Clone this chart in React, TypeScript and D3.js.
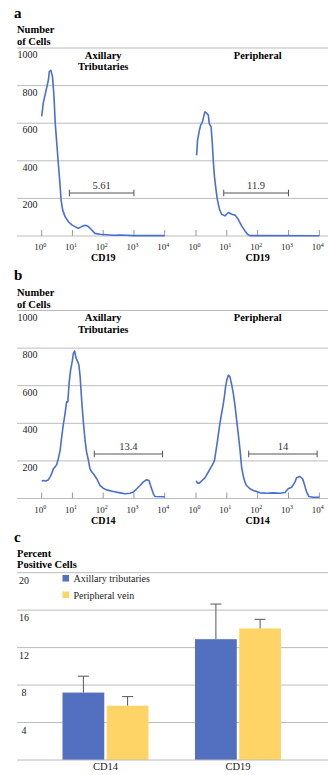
import React from 'react';
import * as d3 from 'd3';

// histogram data: [log10 intensity, number of cells]
const cd19Axillary: [number, number][] = [
  [0, 636], [0.05, 707], [0.11, 751], [0.16, 787], [0.22, 831], [0.25, 876], [0.3, 881],
  [0.35, 849], [0.4, 742], [0.44, 600], [0.49, 494], [0.54, 387], [0.6, 263], [0.63, 192],
  [0.68, 139], [0.76, 103], [0.87, 76], [0.98, 59], [1.08, 50], [1.19, 41], [1.3, 50],
  [1.41, 57], [1.52, 50], [1.63, 32], [1.73, 14], [1.9, 9], [2.12, 7], [2.34, 4],
  [2.55, 5], [2.77, 4], [2.99, 2], [4, 2],
];
const cd19Peripheral: [number, number][] = [
  [0.02, 429], [0.05, 509], [0.1, 554], [0.15, 589], [0.21, 607], [0.26, 643], [0.29, 661],
  [0.35, 652], [0.4, 643], [0.43, 598], [0.49, 580], [0.53, 491], [0.56, 402], [0.6, 313],
  [0.64, 259], [0.69, 196], [0.76, 143], [0.83, 116], [0.94, 107], [1.05, 125], [1.16, 116],
  [1.27, 111], [1.37, 89], [1.48, 54], [1.59, 27], [1.67, 9], [1.75, 2], [4, 1],
];
const cd14Axillary: [number, number][] = [
  [0, 93], [0.05, 96], [0.14, 93], [0.22, 100], [0.27, 114], [0.33, 135], [0.38, 158],
  [0.43, 167], [0.49, 181], [0.54, 212], [0.6, 256], [0.65, 327], [0.7, 390], [0.76, 452],
  [0.81, 514], [0.85, 514], [0.89, 612], [0.94, 683], [1.0, 736], [1.03, 772], [1.07, 785],
  [1.12, 745], [1.17, 728], [1.21, 710], [1.25, 648], [1.3, 523], [1.35, 416], [1.41, 310],
  [1.46, 247], [1.52, 203], [1.57, 158], [1.63, 141], [1.68, 132], [1.79, 105], [1.9, 69],
  [2.0, 55], [2.11, 46], [2.33, 37], [2.55, 30], [2.71, 25], [2.87, 28], [2.98, 34],
  [3.09, 52], [3.2, 69], [3.3, 87], [3.41, 100], [3.49, 96], [3.54, 69], [3.63, 25],
  [3.68, 11], [4, 9],
];
const cd14Peripheral: [number, number][] = [
  [0, 93], [0.05, 82], [0.11, 82], [0.18, 93], [0.29, 110], [0.4, 141], [0.48, 164],
  [0.54, 181], [0.6, 203], [0.65, 256], [0.7, 310], [0.76, 381], [0.81, 434], [0.87, 487],
  [0.92, 541], [0.96, 594], [1.0, 630], [1.05, 656], [1.1, 648], [1.16, 603], [1.21, 559],
  [1.27, 487], [1.32, 416], [1.37, 345], [1.43, 256], [1.48, 167], [1.54, 114], [1.59, 87],
  [1.64, 69], [1.75, 52], [1.86, 43], [2.08, 30], [2.29, 28], [2.51, 30], [2.72, 28],
  [2.89, 32], [2.94, 43], [2.99, 52], [3.1, 60], [3.21, 87], [3.26, 110], [3.37, 117],
  [3.46, 105], [3.51, 78], [3.59, 34], [3.66, 11], [3.8, 7], [4, 7],
];

// gate brackets: [from, to] in log10 units, and the percentage shown
const cd19Gates: [number, number][] = [[0.9, 3], [0.9, 3]];
const cd19GateLabels = ['5.61', '11.9'];
const cd14Gates: [number, number][] = [[1.71, 3.93], [1.71, 3.93]];
const cd14GateLabels = ['13.4', '14'];

const countTicks = [200, 400, 600, 800, 1000];
const decades = [0, 1, 2, 3, 4];
const panelTitles = [['Axillary', 'Tributaries'], ['Peripheral']];

// bar chart
const markers = ['CD14', 'CD19'];
const seriesNames = ['Axillary tributaries', 'Peripheral vein'];
const seriesColors = ['#5270bf', '#ffd466'];
const axillaryMeans = [7.2, 12.9];
const axillaryErrors = [1.75, 3.75];
const peripheralMeans = [5.8, 14.05];
const peripheralErrors = [0.97, 0.97];
const percentTicks = [4, 8, 12, 16, 20];

const FONT = '"Liberation Serif", "Times New Roman", serif';
const GRID = '#bcbcbc';
const CURVE = '#4a6fd2';
const LEFT = 17;
const RIGHT = 328;

const xLeft = d3.scaleLinear().domain([0, 4]).range([41.7, 164.7]);
const xRight = d3.scaleLinear().domain([0, 4]).range([196, 319.3]);

const Histogram = ({ top, letter, marker, curves, gates, gateLabels, gateY }: {
  top: number; letter: string; marker: string;
  curves: [number, number][][]; gates: [number, number][]; gateLabels: string[]; gateY: number;
}) => {
  const y = d3.scaleLinear().domain([0, 1000]).range([top + 188, top]);
  const base = y(0);
  const xs = [xLeft, xRight];
  return (
    <g>
      <text x={14} y={top - 30.5} fontSize={15} fontWeight="bold">{letter}</text>
      <text x={LEFT} y={top - 15} fontSize={10.5} fontWeight="bold">Number</text>
      <text x={LEFT} y={top - 3} fontSize={10.5} fontWeight="bold">of Cells</text>
      {countTicks.map((t) => (
        <g key={t}>
          <line x1={LEFT} x2={RIGHT} y1={y(t)} y2={y(t)} stroke={GRID} />
          <text x={37.5} y={y(t) + 10} fontSize={10} textAnchor="end" fill="#222">{t}</text>
        </g>
      ))}
      <line x1={LEFT} x2={RIGHT} y1={base} y2={base} stroke={GRID} />
      {xs.map((x, i) => {
        const line = d3.line<[number, number]>().x((d) => x(d[0])).y((d) => y(d[1]));
        const [g0, g1] = gates[i];
        const center = (x.range()[0] + x.range()[1]) / 2;
        return (
          <g key={i}>
            {panelTitles[i].map((s, j) => (
              <text key={s} x={center} y={top + 10.7 + j * 11.3} fontSize={10.5} fontWeight="bold" textAnchor="middle">{s}</text>
            ))}
            {decades.map((d) => (
              <g key={d}>
                <line x1={x(d)} x2={x(d)} y1={base} y2={base - 6} stroke="#999" />
                <text x={x(d) - 1.5} y={base + 14} fontSize={9} textAnchor="middle" fill="#222">
                  10<tspan dy={-3.5} fontSize={6}>{d}</tspan>
                </text>
              </g>
            ))}
            <text x={center} y={base + 25} fontSize={10} fontWeight="bold" textAnchor="middle">{marker}</text>
            <path d={line(curves[i]) ?? ''} fill="none" stroke={CURVE} strokeWidth={1.6} strokeLinejoin="round" />
            <g stroke="#555" strokeWidth={1}>
              <line x1={x(g0)} x2={x(g1)} y1={gateY} y2={gateY} />
              <line x1={x(g0)} x2={x(g0)} y1={gateY - 3.3} y2={gateY + 3.3} />
              <line x1={x(g1)} x2={x(g1)} y1={gateY - 3.3} y2={gateY + 3.3} />
            </g>
            <text x={(x(g0) + x(g1)) / 2} y={gateY - 4} fontSize={10.5} textAnchor="middle" fill="#333">{gateLabels[i]}</text>
          </g>
        );
      })}
    </g>
  );
};

const BarChart = () => {
  const y = d3.scaleLinear().domain([0, 20]).range([760, 572.7]);
  const x0 = d3.scaleBand().domain(markers).range([62.5, 281]).paddingInner(0.351).paddingOuter(0);
  const x1 = d3.scaleBand().domain(seriesNames).range([0, x0.bandwidth()]).paddingInner(0.055);
  const means = [axillaryMeans, peripheralMeans];
  const errors = [axillaryErrors, peripheralErrors];
  return (
    <g>
      <text x={14} y={542} fontSize={15} fontWeight="bold">c</text>
      <text x={LEFT} y={556.5} fontSize={10.5} fontWeight="bold">Percent</text>
      <text x={LEFT} y={567.5} fontSize={10.5} fontWeight="bold">Positive Cells</text>
      {percentTicks.map((t) => (
        <g key={t}>
          <line x1={LEFT} x2={RIGHT} y1={y(t)} y2={y(t)} stroke={GRID} />
          <text x={24} y={y(t) + 11} fontSize={10} textAnchor="middle" fill="#222">{t}</text>
        </g>
      ))}
      {markers.map((m, i) => (
        <g key={m}>
          {seriesNames.map((s, j) => {
            const bx = (x0(m) ?? 0) + (x1(s) ?? 0);
            const cx = bx + x1.bandwidth() / 2;
            const v = means[j][i];
            const top = y(v + errors[j][i]);
            return (
              <g key={s}>
                <rect x={bx} y={y(v)} width={x1.bandwidth()} height={y(0) - y(v)} fill={seriesColors[j]} />
                <line x1={cx} x2={cx} y1={y(v)} y2={top} stroke="#555" />
                <line x1={cx - 5.5} x2={cx + 5.5} y1={top} y2={top} stroke="#555" />
              </g>
            );
          })}
          <text x={(x0(m) ?? 0) + x0.bandwidth() / 2} y={770} fontSize={10.5} textAnchor="middle" fill="#222">{m}</text>
        </g>
      ))}
      <line x1={LEFT} x2={RIGHT} y1={y(0)} y2={y(0)} stroke={GRID} />
      {seriesNames.map((s, j) => (
        <g key={s}>
          <rect x={62.5} y={575 + j * 16.5} width={6.5} height={6.5} fill={seriesColors[j]} />
          <text x={73.5} y={582 + j * 16.5} fontSize={10} fill="#222">{s}</text>
        </g>
      ))}
    </g>
  );
};

export default function App() {
  return (
    <svg width={328} height={775} style={{ position: 'absolute', left: 0, top: 0, background: '#fff' }} fontFamily={FONT}>
      <Histogram top={48} letter="a" marker="CD19" curves={[cd19Axillary, cd19Peripheral]} gates={cd19Gates} gateLabels={cd19GateLabels} gateY={193} />
      <Histogram top={310.5} letter="b" marker="CD14" curves={[cd14Axillary, cd14Peripheral]} gates={cd14Gates} gateLabels={cd14GateLabels} gateY={454} />
      <BarChart />
    </svg>
  );
}
